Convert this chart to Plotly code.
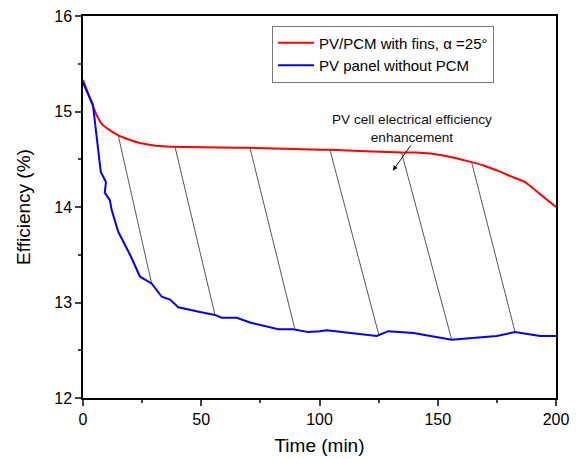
import plotly.graph_objects as go

# Red series: PV/PCM with fins
t_pcm = [0, 2, 4.2, 6, 8.3, 11, 14.9, 19, 24.1, 30, 38.9, 70.6, 100.2, 104.4, 134.7, 141, 152.3, 164.3, 170, 176.3, 181, 186.9, 193, 200]
eff_pcm = [15.33, 15.20, 15.06, 14.95, 14.86, 14.81, 14.75, 14.71, 14.67, 14.645, 14.63, 14.62, 14.60, 14.60, 14.57,
           14.57, 14.54, 14.47, 14.43, 14.37, 14.32, 14.26, 14.14, 14.00]

# Blue series: PV panel without PCM
t_pv = [0, 4.2, 7.5, 9.0, 9.7, 9.2, 11.4, 12.1, 13.5, 14.9, 19.9, 24.1, 29.0, 33.3, 36.8, 40.3, 49.5, 55.8,
        58.6, 65.0, 70.6, 82.6, 88.9, 95.3, 100.2, 103.0, 124.2, 129.1, 139.7, 155.9, 174.9, 182.7, 193.2, 200]
eff_pv = [15.30, 15.07, 14.37, 14.30, 14.26, 14.15, 14.07, 13.97, 13.86, 13.74, 13.50, 13.27, 13.20, 13.06, 13.03,
          12.95, 12.90, 12.87, 12.84, 12.84, 12.79, 12.72, 12.72, 12.69, 12.70, 12.71, 12.65, 12.70, 12.68, 12.61,
          12.65, 12.69, 12.65, 12.65]

# Hatch connector lines (start on red curve, end on blue curve)
hatch_t0 = [14.9, 38.9, 70.6, 104.4, 134.7, 164.3]
hatch_e0 = [14.75, 14.63, 14.62, 14.60, 14.57, 14.47]
hatch_t1 = [29.0, 55.8, 89.6, 125.2, 155.9, 182.7]
hatch_e1 = [13.20, 12.87, 12.72, 12.65, 12.61, 12.69]

x_ticks = [0, 50, 100, 150, 200]
y_ticks = [12, 13, 14, 15, 16]

FONT = "Liberation Sans, Arial, sans-serif"

fig = go.Figure()

for a, b, c, d in zip(hatch_t0, hatch_e0, hatch_t1, hatch_e1):
    fig.add_trace(go.Scatter(x=[a, c], y=[b, d], mode="lines",
                             line=dict(color="#444444", width=0.9),
                             showlegend=False, hoverinfo="skip"))

fig.add_trace(go.Scatter(x=t_pcm, y=eff_pcm, mode="lines", name="PV/PCM with fins, α =25°",
                         line=dict(color="#ff0000", width=2, shape="spline", smoothing=0.5)))
fig.add_trace(go.Scatter(x=t_pv, y=eff_pv, mode="lines", name="PV panel without PCM",
                         line=dict(color="#0000ff", width=2)))

fig.add_annotation(x=139, y=14.82, xref="x", yref="y",
                   text="PV cell electrical efficiency<br>enhancement", showarrow=False,
                   font=dict(family=FONT, size=13.6, color="#111111"), align="center")
fig.add_annotation(x=131, y=14.38, ax=139, ay=14.66, xref="x", yref="y", axref="x", ayref="y",
                   text="", showarrow=True, arrowhead=2, arrowsize=1, arrowwidth=1, arrowcolor="#111111")

# page body has an 8px margin, so the figure is sized/placed to compensate
fig.update_layout(
    width=573, height=451,
    margin=dict(l=75, r=25, t=8, b=61),
    plot_bgcolor="white", paper_bgcolor="white",
    font=dict(family=FONT, size=16, color="black"),
    legend=dict(x=0.3996, y=0.975, xanchor="left", yanchor="top",
                bordercolor="#777777", borderwidth=1, bgcolor="white",
                font=dict(family=FONT, size=15), tracegroupgap=0, itemwidth=36),
    showlegend=True,
)
fig.update_xaxes(range=[0, 200], tickvals=x_ticks, ticks="outside", ticklen=6, tickwidth=1.5,
                 showline=True, linecolor="black", linewidth=1.5, mirror=True, showgrid=False, zeroline=False,
                 minor=dict(tickvals=[25, 75, 125, 175], ticks="outside", ticklen=3, tickwidth=1.5),
                 title=dict(text="Time (min)", font=dict(size=19), standoff=12),
                 tickfont=dict(size=16), automargin=False, ticklabeloverflow="allow")
fig.update_yaxes(range=[12, 16], tickvals=y_ticks, ticks="outside", ticklen=6, tickwidth=1.5,
                 showline=True, linecolor="black", linewidth=1.5, mirror=True, showgrid=False, zeroline=False,
                 minor=dict(tickvals=[12.5, 13.5, 14.5, 15.5], ticks="outside", ticklen=3, tickwidth=1.5),
                 title=dict(text="Efficiency (%)", font=dict(size=19), standoff=19),
                 tickfont=dict(size=16), automargin=False, ticklabeloverflow="allow")

fig.write_html("out.html")
